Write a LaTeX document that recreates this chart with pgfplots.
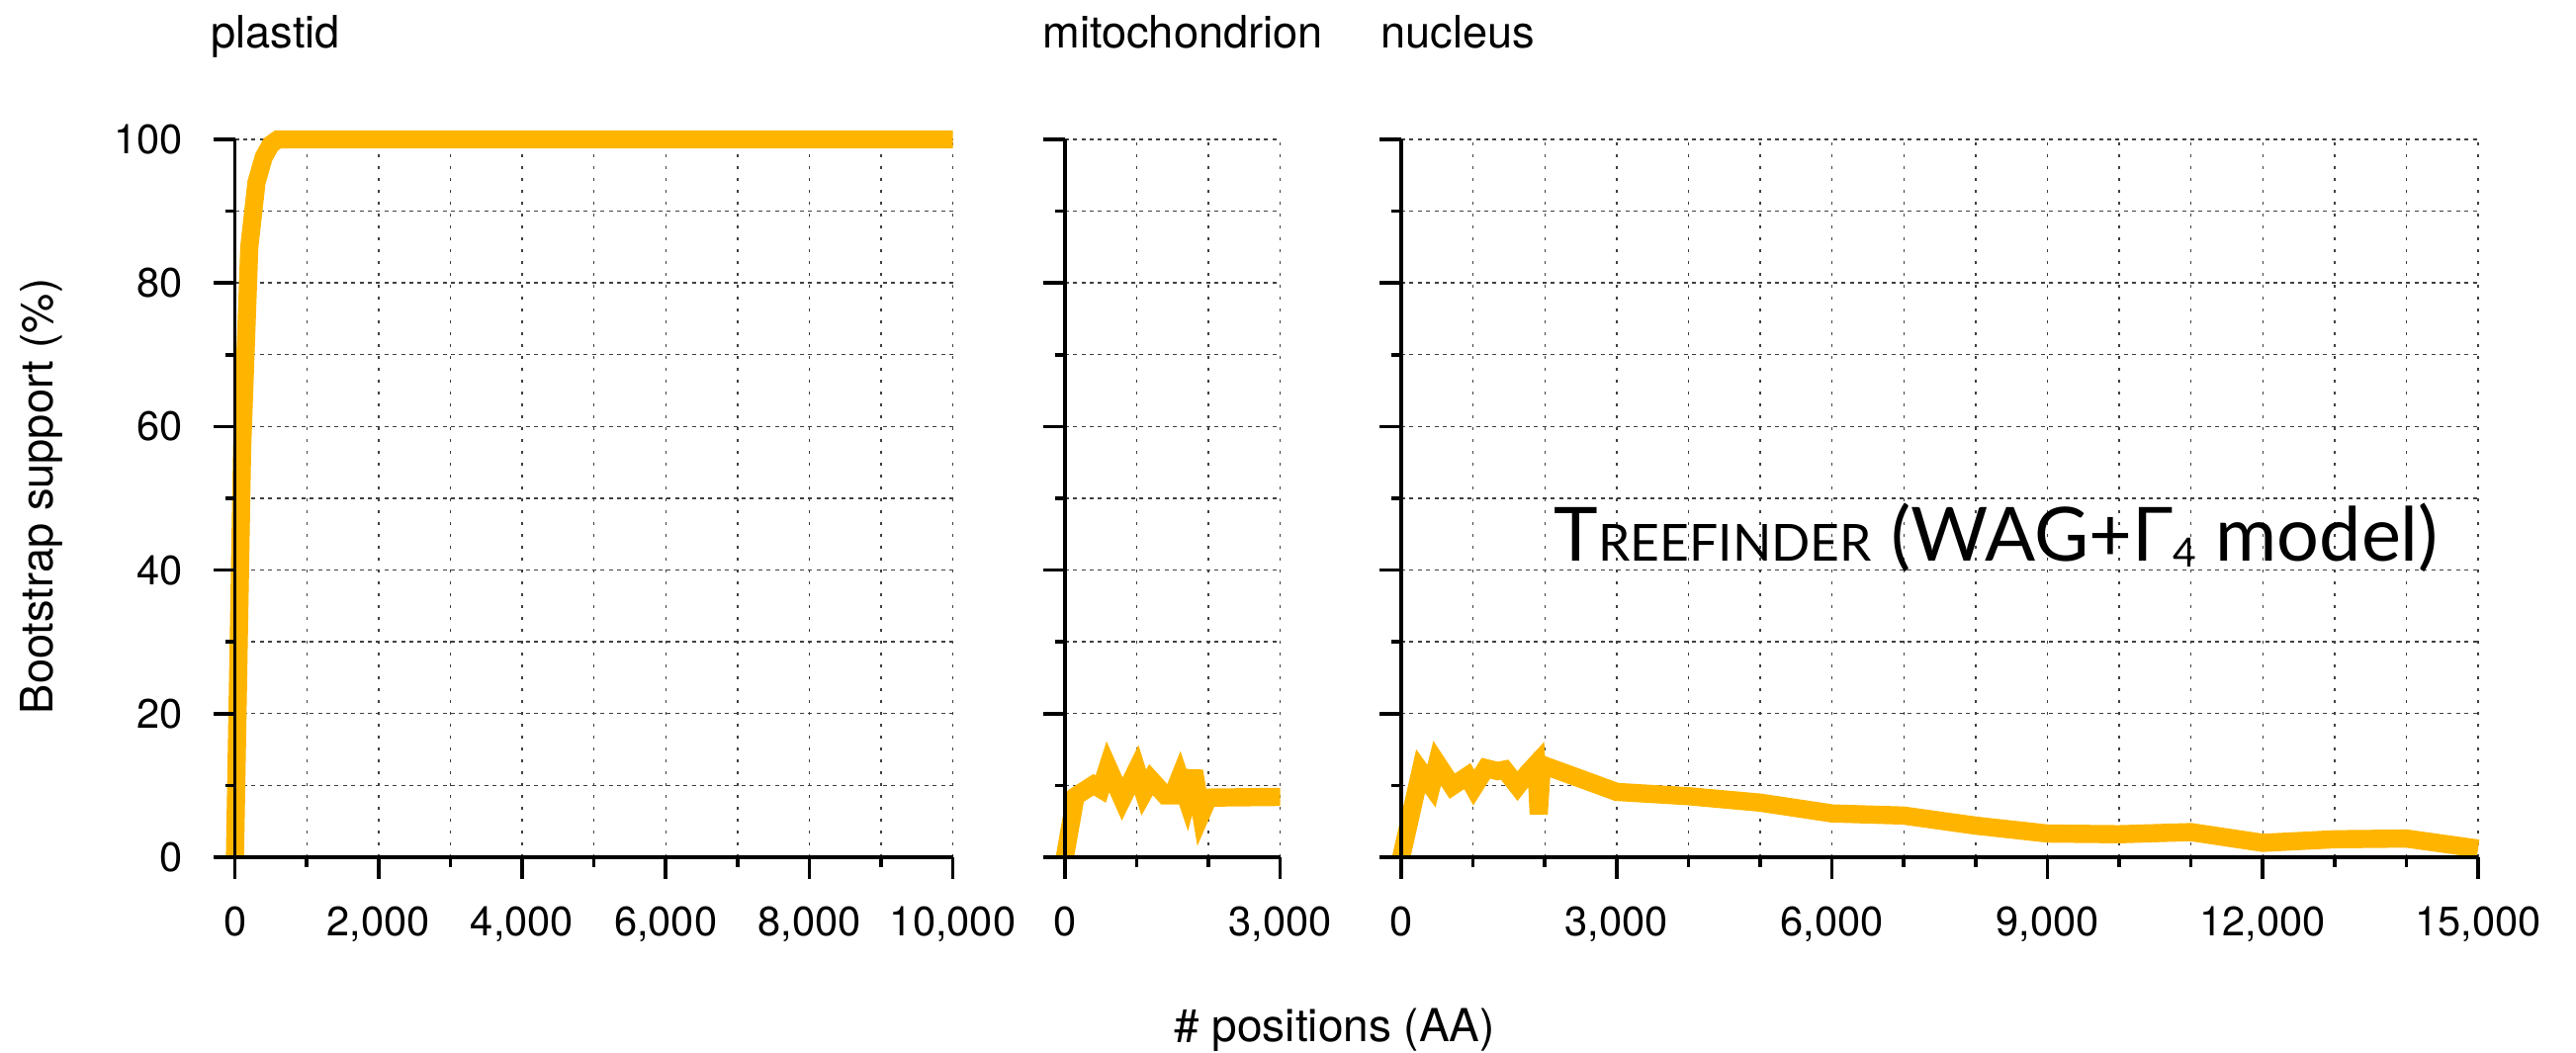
\documentclass[border=0pt]{standalone}
\usepackage{fontspec}
\setmainfont{TeX Gyre Heros}
\newfontfamily\annfont{Lato}
\usepackage{pgfplots}
\pgfplotsset{compat=1.18}
\definecolor{treeorange}{RGB}{255,181,0}

\pgfplotsset{
  layers/linebelow/.define layer set={axis background,axis grid,main,axis ticks,axis lines,axis tick labels,axis descriptions,axis foreground}{/pgfplots/layers/standard},
  panel/.style={
    set layers=linebelow,
    scale only axis, height=181.5pt,
    anchor=south west,
    xmin=0, ymin=0, ymax=100,
    axis x line*=bottom, axis y line*=left,
    tick align=outside,
    major tick length=5.5pt, minor tick length=2.5pt,
    tick style={black, line width=0.9pt},
    axis line style={black, line width=0.85pt},
    ytick={0,20,...,100}, minor y tick num=1,
    grid=both,
    major x grid style={black!75, line width=0.35pt, dash pattern=on 0.8pt off 2.2pt},
    minor x grid style={black!75, line width=0.35pt, dash pattern=on 0.8pt off 2.2pt},
    major y grid style={black!75, line width=0.35pt, dash pattern=on 1pt off 1.1pt},
    minor y grid style={black!75, line width=0.35pt, dash pattern=on 1pt off 1.1pt},
    scaled x ticks=false,
    /pgf/number format/assume math mode=true,
    /pgf/number format/1000 sep={,},
    tick label style={font=\fontsize{10.4}{12}\selectfont},
    xticklabel style={yshift=-3.5pt},
    yticklabel style={xshift=-4.2pt},
    clip=false,
  },
  bootline/.style={draw=treeorange, line width=4.6pt, miter limit=4},
}

\begin{document}
\begin{tikzpicture}
% plastid
\begin{axis}[panel, at={(59.4pt,49.25pt)}, width=181.5pt,
  xmax=10000, xtick={0,2000,...,10000}, minor x tick num=1]
\addplot[bootline] coordinates {
  (0,0) (100,57) (200,85) (300,94) (400,97.5) (500,99.3) (600,100) (10000,100)};
\end{axis}

% mitochondrion
\begin{axis}[panel, at={(269.2pt,49.25pt)}, width=54.45pt,
  xmax=3000, xtick={0,3000}, minor xtick={1000,2000}, yticklabels={}]
\addplot[bootline] coordinates {
  (0,0) (150,8.5) (400,10.1) (500,9.5) (600,12.6) (800,8.1) (1000,12.2)
  (1100,9.0) (1200,10.8) (1400,8.6) (1500,8.6) (1600,11.1) (1700,8.1)
  (1800,12.0) (1900,6.0) (2000,8.3) (3000,8.4)};
\end{axis}

% nucleus
\begin{axis}[panel, at={(354.25pt,49.25pt)}, width=272.25pt,
  xmax=15000, xtick={0,3000,...,15000}, minor x tick num=2, yticklabels={}]
\addplot[bootline] coordinates {
  (0,0) (270,12.0) (420,9.9) (500,13.1) (710,9.9) (920,11.3) (1010,9.7)
  (1180,12.4) (1340,12.0) (1440,12.2) (1620,9.9) (1760,11.7) (1880,13.0)
  (1915,6.0) (1960,12.9) (3000,9.1) (4000,8.5) (5000,7.6) (6000,6.1)
  (7000,5.8) (8000,4.4) (9000,3.3) (10000,3.2) (11000,3.5) (12000,2.0)
  (13000,2.5) (14000,2.6) (15000,1.2)};
\end{axis}

\begin{scope}[every node/.style={inner sep=0pt, font=\fontsize{11.3}{13}\selectfont}]
\node[anchor=base west] at (53.2pt,253.75pt) {plastid};
\node[anchor=base west] at (263.4pt,253.75pt) {mitochondrion};
\node[anchor=base west] at (348.9pt,253.75pt) {nucleus};
\node[rotate=90, anchor=base] at (13.3pt,140.5pt) {Bootstrap support (\%)};
\node[anchor=base, font=\fontsize{11.5}{13}\selectfont] at (337.4pt,2.5pt) {\# positions (AA)};
\end{scope}

\node[anchor=base west, inner sep=0pt] at (392.75pt,124pt)
  {\annfont\fontsize{18.9}{20}\selectfont T{\fontsize{12.9}{14}\selectfont REEFINDER} (WAG+Γ\raisebox{-1.3pt}{\fontsize{10.2}{12}\selectfont 4} model)};

\path (0,0) rectangle (651.25pt,266pt);
\end{tikzpicture}
\end{document}
